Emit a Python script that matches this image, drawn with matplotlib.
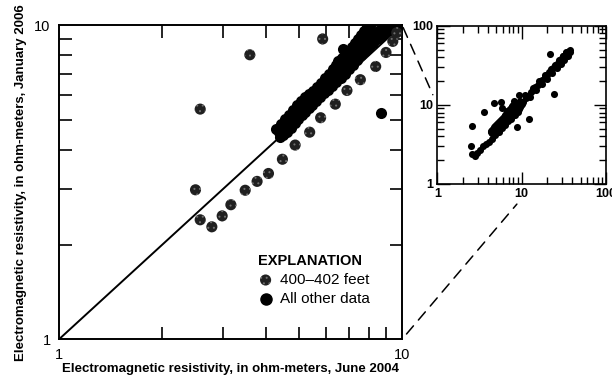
import matplotlib.pyplot as plt
from matplotlib.patches import ConnectionPatch
from matplotlib.ticker import NullFormatter, FixedLocator, FixedFormatter

plt.rcParams['font.family'] = ['Liberation Sans', 'DejaVu Sans']
plt.rcParams['hatch.linewidth'] = 0.7

# 400-402 feet interval (June 2004, January 2006), ohm-meters
depth_x = [2.50, 2.58, 2.79, 2.99, 3.17, 3.49, 3.78, 4.08, 4.48, 4.88, 5.38,
           5.79, 6.39, 6.91, 7.56, 8.38, 8.98, 9.40, 9.65, 2.58, 3.60, 5.87]
depth_y = [2.99, 2.40, 2.28, 2.47, 2.68, 2.98, 3.18, 3.37, 3.74, 4.15, 4.56,
           5.07, 5.60, 6.19, 6.70, 7.38, 8.18, 8.87, 9.45, 5.40, 8.04, 9.03]

# all other data: upper edge of the main cloud
upper_x = [4.30, 4.43, 4.56, 4.68, 4.81, 4.95, 5.08, 5.22, 5.36, 5.50, 5.65,
           5.80, 5.96, 6.12, 6.29, 6.40, 6.51, 6.70, 6.87, 7.00, 7.15, 7.30,
           7.44, 7.60, 7.75, 7.90, 8.07, 8.30, 6.75]
upper_y = [4.68, 4.85, 5.02, 5.18, 5.36, 5.55, 5.73, 5.88, 6.03, 6.18, 6.35,
           6.56, 6.78, 7.00, 7.24, 7.48, 7.68, 7.85, 8.03, 8.28, 8.52, 8.78,
           9.03, 9.30, 9.57, 9.82, 10.08, 10.30, 8.41]
# middle of the cloud
middle_x = [4.38, 4.52, 4.65, 4.78, 4.91, 5.05, 5.18, 5.32, 5.47, 5.62, 5.77,
            5.92, 6.08, 6.25, 6.42, 6.58, 6.73, 6.89, 7.05, 7.22, 7.39, 7.57,
            7.75, 7.96, 8.18, 8.40, 8.63, 8.86, 9.10, 9.54]
middle_y = [4.56, 4.68, 4.78, 4.93, 5.07, 5.24, 5.41, 5.60, 5.78, 5.96, 6.13,
            6.32, 6.50, 6.70, 6.90, 7.13, 7.37, 7.59, 7.81, 8.08, 8.35, 8.60,
            8.85, 9.08, 9.31, 9.48, 9.66, 9.83, 10.00, 10.24]
# lower edge of the cloud
lower_x = [4.40, 4.50, 4.62, 4.75, 4.86, 4.98, 5.10, 5.21, 5.34, 5.47, 5.62,
           5.77, 5.92, 6.08, 6.25, 6.42, 6.62, 6.82, 7.00, 7.20, 7.40, 7.59,
           7.80, 8.01, 8.23, 8.46, 8.70, 8.92, 9.15, 9.35, 9.58, 9.80]
lower_y = [4.40, 4.47, 4.58, 4.71, 4.87, 5.03, 5.16, 5.29, 5.43, 5.58, 5.74,
           5.91, 6.06, 6.23, 6.41, 6.60, 6.80, 7.00, 7.22, 7.48, 7.76, 8.04,
           8.28, 8.53, 8.79, 9.04, 9.26, 9.45, 9.62, 9.75, 9.88, 9.98]
# scattered points and the part above 10 ohm-meters (seen in the inset)
spread_x = [8.70, 4.75, 5.75, 8.15, 9.40, 12.3, 21.6, 24.1,
            8.5, 9.5, 10.0, 10.5, 11.2, 12.0, 12.8, 13.6, 14.5, 15.5, 16.5,
            17.5, 18.7, 20.0, 21.0, 22.5, 23.5, 25.0, 26.0, 27.5, 28.5, 30.0,
            31.0, 32.5, 33.5, 35.0, 36.0, 37.0, 37.5,
            12.5, 15.0, 17.5, 20.0, 23.0, 26.0, 29.0, 32.0, 35.0,
            11.0, 13.5, 16.0, 19.0, 22.0, 25.0, 28.0, 31.0, 34.0]
spread_y = [5.25, 10.6, 10.8, 11.3, 13.3, 6.7, 43.9, 13.6,
            10.5, 11.2, 10.2, 11.0, 12.3, 13.0, 14.5, 15.2, 16.8, 17.6, 19.5,
            20.4, 22.5, 23.5, 25.8, 27.0, 29.5, 30.5, 33.0, 34.5, 37.0, 38.5,
            41.0, 42.5, 45.0, 46.0, 48.0, 47.0, 49.0,
            12.4, 15.2, 18.4, 21.2, 25.0, 29.0, 33.0, 37.0, 41.0,
            13.4, 16.5, 19.8, 23.8, 28.0, 32.0, 36.5, 41.5, 46.0]

other_x = upper_x + middle_x + lower_x + spread_x
other_y = upper_y + middle_y + lower_y + spread_y

one_to_one = [1, 10]
main_minor = [2, 3, 4, 5, 6, 7, 8, 9]
inset_minor = main_minor + [20, 30, 40, 50, 60, 70, 80, 90]

fig = plt.figure(figsize=(6.12, 3.89), dpi=100)
ax = fig.add_axes([0.0964, 0.1278, 0.5605, 0.8079])
ins = fig.add_axes([0.7145, 0.527, 0.2757, 0.407])

# main plot
ax.plot(one_to_one, one_to_one, color='black', lw=1.4, zorder=1)
ax.scatter(other_x, other_y, s=64, color='black', linewidths=0, zorder=2)
ax.scatter(depth_x, depth_y, s=64, facecolor='#202020', edgecolor='#6e6e6e',
           linewidths=0, hatch='...', zorder=3, label='400\u2013402 feet')
ax.scatter([], [], s=64, color='black', label='All other data')
ax.set_xscale('log')
ax.set_yscale('log')
ax.set_xlim(1, 10)
ax.set_ylim(1, 10)
for a in (ax.xaxis, ax.yaxis):
    a.set_major_locator(FixedLocator([1, 10]))
    a.set_major_formatter(FixedFormatter(['1', '10']))
    a.set_minor_locator(FixedLocator(main_minor))
    a.set_minor_formatter(NullFormatter())
ax.tick_params(which='both', direction='in', top=True, right=True,
               labelsize=10.5, width=1.2)
ax.tick_params(which='major', length=0, pad=6)
ax.tick_params(which='minor', length=9)
for sp in ax.spines.values():
    sp.set_linewidth(1.4)
ax.set_xlabel('Electromagnetic resistivity, in ohm-meters, June 2004',
              fontsize=9.5, fontweight='bold', labelpad=1)
ax.set_ylabel('Electromagnetic resistivity, in ohm-meters, January 2006',
              fontsize=9.5, fontweight='bold', labelpad=5)

leg = ax.legend(loc='upper left', bbox_to_anchor=(0.58, 0.27), frameon=False,
                title='EXPLANATION', fontsize=11, handlelength=1.0,
                handletextpad=0.45, labelspacing=0.3, borderaxespad=0,
                borderpad=0, alignment='left')
leg.get_title().set_fontweight('bold')
leg.get_title().set_fontsize(10.5)

# inset with full range
ins.scatter(other_x + depth_x, other_y + depth_y, s=26, color='black',
            linewidths=0)
ins.set_xscale('log')
ins.set_yscale('log')
ins.set_xlim(1, 100)
ins.set_ylim(1, 100)
for a in (ins.xaxis, ins.yaxis):
    a.set_major_locator(FixedLocator([1, 10, 100]))
    a.set_major_formatter(FixedFormatter(['1', '10', '100']))
    a.set_minor_locator(FixedLocator(inset_minor))
    a.set_minor_formatter(NullFormatter())
ins.tick_params(which='both', direction='in', top=True, right=True,
                labelsize=9, width=1.0, pad=3)
ins.tick_params(which='major', length=9)
ins.tick_params(which='minor', length=5)
for lbl in ins.get_xticklabels() + ins.get_yticklabels():
    lbl.set_fontweight('bold')
for sp in ins.spines.values():
    sp.set_linewidth(1.2)

# zoom guides
for (xa, ya), (xb, yb), sa, sb in [((10, 10), (1, 10), 2, 8),
                                   ((10, 1), (14, 1), 5, 19)]:
    con = ConnectionPatch(xyA=(xa, ya), coordsA=ax.transData,
                          xyB=(xb, yb), coordsB=ins.transData,
                          linestyle=(0, (7, 5)), lw=1.1, color='black',
                          shrinkA=sa, shrinkB=sb)
    fig.add_artist(con)

plt.savefig('out.png', dpi=100)
